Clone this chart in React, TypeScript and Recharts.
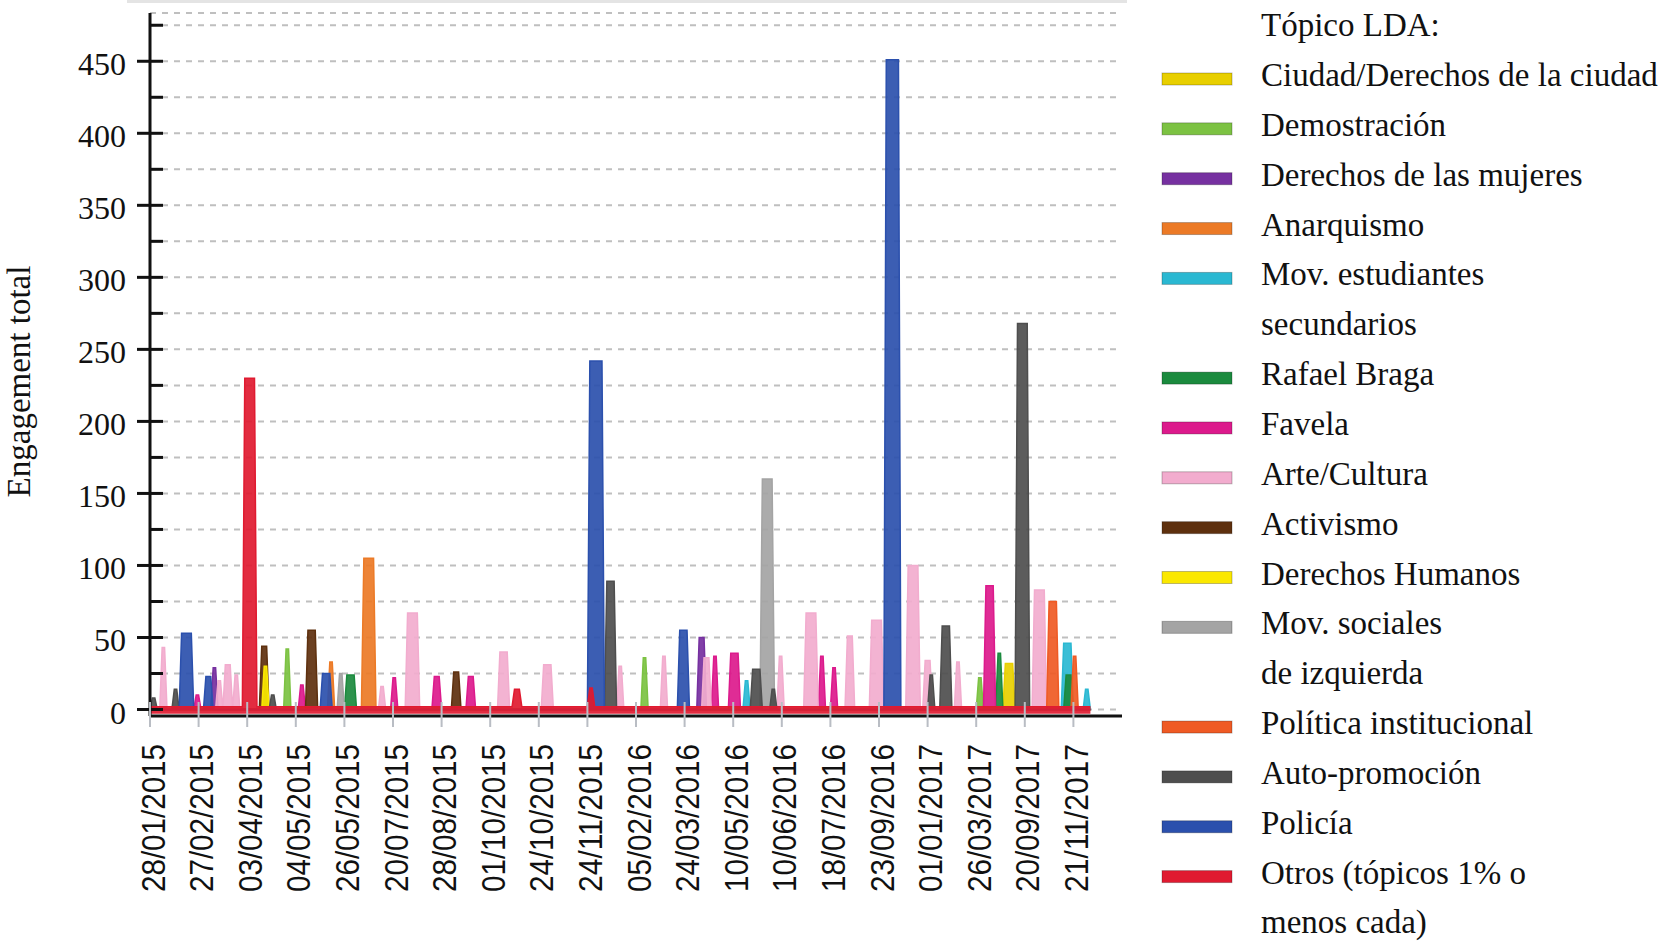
import React from "react";
import { AreaChart, Area, XAxis, YAxis, CartesianGrid } from "recharts";

// labelled dates on the x axis, one every STEP points
const dateTicks = [
  "28/01/2015", "27/02/2015", "03/04/2015", "04/05/2015", "26/05/2015",
  "20/07/2015", "28/08/2015", "01/10/2015", "24/10/2015", "24/11/2015",
  "05/02/2016", "24/03/2016", "10/05/2016", "10/06/2016", "18/07/2016",
  "23/09/2016", "01/01/2017", "26/03/2017", "20/09/2017", "21/11/2017",
];
const STEP = 20;
const POINTS = 388;
const yTicks = [0, 25, 50, 75, 100, 125, 150, 175, 200, 225, 250, 275, 300, 325, 350, 375, 400, 425, 450, 475];

// spikes per topic: [first point, last point, engagement]
type Spike = [number, number, number];

const ciudadSpikes: Spike[] = [[352, 355, 32]];
const demostracionSpikes: Spike[] = [[56, 57, 42], [203, 204, 36], [341, 342, 22]];
const mujeresSpikes: Spike[] = [[26, 27, 29], [226, 228, 50]];
const anarquismoSpikes: Spike[] = [[74, 75, 33], [88, 92, 105]];
const estudiantesSpikes: Spike[] = [[245, 246, 20], [376, 379, 46], [385, 386, 14]];
const bragaSpikes: Spike[] = [[81, 84, 24], [349, 350, 39], [377, 379, 24]];
const favelaSpikes: Spike[] = [
  [19, 20, 10], [62, 63, 17], [100, 101, 22], [117, 119, 23], [131, 133, 23],
  [232, 233, 37], [239, 242, 39], [276, 277, 37], [281, 282, 29], [344, 347, 86],
];
const arteSpikes: Spike[] = [
  [5, 6, 43], [28, 29, 20], [31, 33, 31], [35, 36, 24], [95, 96, 16],
  [106, 110, 67], [144, 147, 40], [162, 165, 31], [193, 194, 30], [211, 212, 37],
  [228, 230, 36], [259, 260, 37], [270, 274, 67], [287, 289, 51], [297, 301, 62],
  [312, 316, 100], [319, 321, 34], [332, 333, 33], [364, 368, 83],
];
const activismoSpikes: Spike[] = [[46, 48, 44], [65, 68, 55], [125, 127, 26]];
const humanosSpikes: Spike[] = [[47, 48, 30]];
const socialesSpikes: Spike[] = [[78, 79, 25], [252, 256, 160]];
const politicaSpikes: Spike[] = [[370, 373, 75], [380, 381, 37]];
const autoSpikes: Spike[] = [
  [1, 2, 8], [10, 11, 14], [50, 51, 10], [188, 191, 89], [248, 251, 28],
  [256, 257, 14], [321, 322, 24], [326, 329, 58], [357, 361, 268],
];
const policiaSpikes: Spike[] = [
  [13, 17, 53], [23, 25, 23], [71, 74, 25], [181, 186, 242], [218, 221, 55], [303, 308, 451],
];
const otrosSpikes: Spike[] = [[0, 387, 2], [39, 43, 230], [150, 152, 14], [181, 182, 15]];

const SERIES = [
  { key: "ciudad", lines: ["Ciudad/Derechos de la ciudad"], color: "#e8cf00", spikes: ciudadSpikes },
  { key: "demostracion", lines: ["Demostración"], color: "#7cc242", spikes: demostracionSpikes },
  { key: "mujeres", lines: ["Derechos de las mujeres"], color: "#7630a0", spikes: mujeresSpikes },
  { key: "anarquismo", lines: ["Anarquismo"], color: "#ec7a26", spikes: anarquismoSpikes },
  { key: "estudiantes", lines: ["Mov. estudiantes", "secundarios"], color: "#2ab8d2", spikes: estudiantesSpikes },
  { key: "braga", lines: ["Rafael Braga"], color: "#1b8a3e", spikes: bragaSpikes },
  { key: "favela", lines: ["Favela"], color: "#dc1a8c", spikes: favelaSpikes },
  { key: "arte", lines: ["Arte/Cultura"], color: "#f2acce", spikes: arteSpikes },
  { key: "activismo", lines: ["Activismo"], color: "#5e300e", spikes: activismoSpikes },
  { key: "humanos", lines: ["Derechos Humanos"], color: "#fbe800", spikes: humanosSpikes },
  { key: "sociales", lines: ["Mov. sociales", "de izquierda"], color: "#a4a4a4", spikes: socialesSpikes },
  { key: "politica", lines: ["Política institucional"], color: "#ef5a24", spikes: politicaSpikes },
  { key: "auto", lines: ["Auto-promoción"], color: "#4e4e4e", spikes: autoSpikes },
  { key: "policia", lines: ["Policía"], color: "#2b50ad", spikes: policiaSpikes },
  { key: "otros", lines: ["Otros (tópicos 1% o", "menos cada)"], color: "#e01a30", spikes: otrosSpikes },
];

const rows = Array.from({ length: POINTS }, (_, i) => {
  const row: Record<string, number> = { i };
  for (const s of SERIES) {
    let v = 0;
    for (const [a, b, h] of s.spikes) if (i >= a && i <= b && h > v) v = h;
    row[s.key] = v;
  }
  return row;
});

const xTicks = dateTicks.map((_, k) => k * STEP);

const SERIF = "'Liberation Serif', 'Times New Roman', serif";
const SANS = "'Liberation Sans', Arial, sans-serif";

function YTick({ x, y, payload }: any) {
  const major = payload.value % 50 === 0;
  return (
    <g>
      <line x1={major ? x - 13 : x} x2={x + 13} y1={y} y2={y} stroke="#111" strokeWidth={3} />
      {major ? (
        <text x={x - 24} y={y + 14} textAnchor="end" fontFamily={SERIF} fontSize={32} fill="#111">
          {payload.value}
        </text>
      ) : null}
    </g>
  );
}

function XTick({ x, y, payload }: any) {
  const label = dateTicks[Math.round(payload.value / STEP)];
  const tx = x + 3;
  const ty = y + 28;
  return (
    <g>
      <line x1={x} x2={x} y1={y - 14} y2={y + 11} stroke="#b9bdc4" strokeWidth={2} />
      <text
        x={tx}
        y={ty}
        transform={`rotate(-90, ${tx}, ${ty})`}
        textAnchor="end"
        dominantBaseline="central"
        fontFamily={SANS}
        fontSize={33}
        fill="#111"
        textLength={148}
        lengthAdjust="spacingAndGlyphs"
      >
        {label}
      </text>
    </g>
  );
}

function YTitle({ viewBox }: any) {
  const cx = 30;
  const cy = viewBox.y + viewBox.height / 2 + 17;
  return (
    <text x={cx} y={cy} transform={`rotate(-90, ${cx}, ${cy})`} textAnchor="middle" fontFamily={SERIF} fontSize={33} fill="#111">
      Engagement total
    </text>
  );
}

function LegendPanel() {
  let row = 0;
  const rowY = (r: number) => 79 + r * 49.85;
  return (
    <svg width={1664} height={947} style={{ position: "absolute", left: 0, top: 0, pointerEvents: "none" }}>
      <text x={1261} y={rowY(-1) + 7} fontFamily={SERIF} fontSize={33} fill="#111">
        Tópico LDA:
      </text>
      {SERIES.map((s) => {
        const first = row;
        row += s.lines.length;
        return (
          <g key={s.key}>
            <rect x={1162} y={rowY(first) - 6} width={70} height={12} fill={s.color} stroke="rgba(0,0,0,0.25)" strokeWidth={1} />
            {s.lines.map((line, k) => (
              <text key={k} x={1261} y={rowY(first + k) + 7} fontFamily={SERIF} fontSize={33} fill="#111">
                {line}
              </text>
            ))}
          </g>
        );
      })}
    </svg>
  );
}

export default function App() {
  return (
    <div style={{ position: "absolute", left: 0, top: 0, width: 1664, height: 947, background: "#fff" }}>
      <div style={{ position: "absolute", left: 127, top: 0, width: 1000, height: 3, background: "#e4e4e4" }} />
      <AreaChart width={1664} height={947} data={rows} margin={{ top: 13, right: 542, bottom: 0, left: 0 }}>
        <CartesianGrid vertical={false} stroke="#bfbfbf" strokeWidth={2} strokeDasharray="6 6" />
        {SERIES.map((s) => (
          <Area
            key={s.key}
            dataKey={s.key}
            name={s.lines.join(" ")}
            type="linear"
            stroke={s.color}
            strokeWidth={1.5}
            fill={s.color}
            fillOpacity={0.92}
            baseValue={s.key === "otros" ? -3 : 0}
            dot={false}
            activeDot={false}
            isAnimationActive={false}
          />
        ))}
        <YAxis
          type="number"
          domain={[-4.5, 483.5]}
          allowDataOverflow
          ticks={yTicks}
          interval={0}
          width={150}
          tickSize={0}
          tickMargin={0}
          tickLine={false}
          axisLine={{ stroke: "#111", strokeWidth: 3 }}
          tick={<YTick />}
          label={<YTitle />}
        />
        <XAxis
          type="number"
          dataKey="i"
          domain={[0, 400]}
          allowDataOverflow
          ticks={xTicks}
          interval={0}
          height={231}
          tickSize={0}
          tickMargin={0}
          tickLine={false}
          axisLine={{ stroke: "#111", strokeWidth: 3 }}
          tick={<XTick />}
        />
      </AreaChart>
      <LegendPanel />
    </div>
  );
}
